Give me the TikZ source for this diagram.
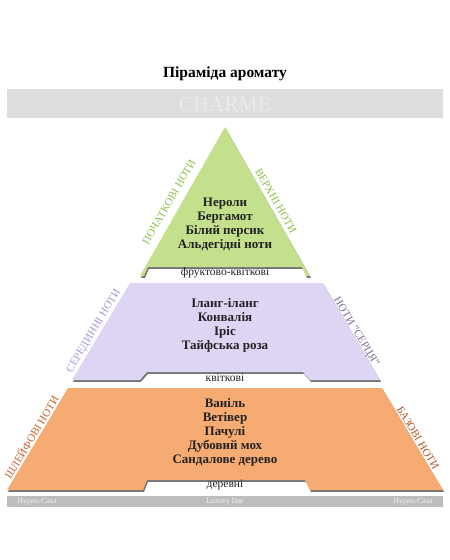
\documentclass[tikz,border=0pt]{standalone}
\usepackage{fontspec}
\setmainfont{Liberation Serif}
\usepackage{xcolor}
\usetikzlibrary{shadows}
\definecolor{topgreen}{HTML}{C4E08C}
\definecolor{midlilac}{HTML}{DDD5F3}
\definecolor{baseorange}{HTML}{F6AB72}
\definecolor{barlight}{HTML}{DEDEDE}
\definecolor{bardark}{HTML}{BDBDBD}
\definecolor{notetext}{HTML}{222222}
\definecolor{greenlabel}{HTML}{8DBF48}
\definecolor{lilaclabel}{HTML}{A898D8}
\definecolor{lilacdark}{HTML}{7A6C98}
\definecolor{orangelabel}{HTML}{C8632C}

\begin{document}
\begin{tikzpicture}[x=1pt,y=-1pt,
  layer/.style={drop shadow={shadow xshift=1pt,shadow yshift=-1.8pt,fill=black!55,opacity=1}},
  notes/.style={align=center,font=\fontsize{13}{14}\selectfont\bfseries,text=notetext},
  family/.style={font=\fontsize{11.5}{12}\selectfont,text=notetext},
  side/.style={font=\fontsize{11}{12}\selectfont,inner sep=0pt},
  foot/.style={font=\fontsize{8}{9}\selectfont,text=white!95!black}]
\useasboundingbox (0,0) rectangle (450,560);

% heading
\node (t) at (225,74) {\fontsize{15.5}{18}\selectfont\bfseries Піраміда аромату};
\fill[barlight] (7,89) rectangle (443,118);
\node (ch) at (225,104) {\fontsize{21.5}{24}\selectfont\color{white!92!black}CHARME};

% three layers
\fill[layer,topgreen] (225,127) -- (310,276) -- (306,276) -- (302,267) -- (148,267)
  -- (144,276) -- (140,276) -- cycle;
\fill[layer,midlilac] (130,283) -- (323,283) -- (380,380) -- (310,380) -- (303,372)
  -- (147,372) -- (140,380) -- (72,380) -- cycle;
\fill[layer,baseorange] (68,388) -- (382,388) -- (443,490) -- (310,490) -- (305,480)
  -- (147,480) -- (143,490) -- (7,490) -- cycle;

\node[notes] (top) at (225,224) {Нероли\\Бергамот\\Білий персик\\Альдегідні ноти};
\node[family] (fk) at (225,273) {фруктово-квіткові};
\node[notes] (mid) at (225,325) {Іланг-іланг\\Конвалія\\Іріс\\Тайфська роза};
\node[family] (kv) at (225,378) {квіткові};
\node[notes] (base) at (225,432) {Ваніль\\Ветівер\\Пачулі\\Дубовий мох\\Сандалове дерево};
\node[family] (dr) at (225,485) {деревні};

% side labels
\node[side,text=greenlabel,rotate=60] (pl) at (169,202) {ПОЧАТКОВІ НОТИ};
\node[side,text=greenlabel,rotate=-60] (vh) at (276,201) {ВЕРХНІ НОТИ};
\node[side,text=lilaclabel,rotate=59] (sl) at (94,331) {СЕРЕДИННІ НОТИ};
\node[side,text=lilacdark,rotate=-59] (ns) at (356,332) {НОТИ "СЕРЦЯ"};
\node[side,text=orangelabel,rotate=59] (shl) at (31,437) {ШЛЕЙФОВІ НОТИ};
\node[side,text=orangelabel!85!black,rotate=-59] (bz) at (418,438) {БАЗОВІ НОТИ};

% footer
\fill[bardark] (7,496) rectangle (443,507);
\node[foot] (hl) at (37,501.5) {Hypno Casa};
\node[foot] (ll) at (225,501.5) {Luxury line};
\node[foot] (hr) at (413,501.5) {Hypno Casa};
\end{tikzpicture}
\end{document}
